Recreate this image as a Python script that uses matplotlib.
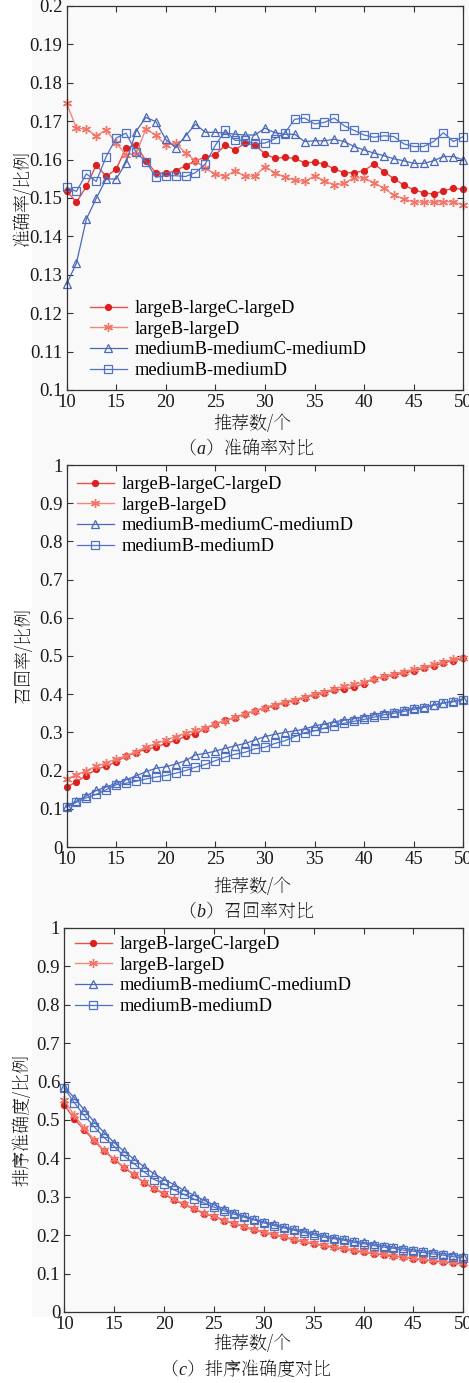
import numpy as np
import matplotlib
matplotlib.use("Agg")
import matplotlib.pyplot as plt
from matplotlib.patches import Rectangle
from matplotlib.font_manager import FontProperties, fontManager

# ---- data -------------------------------------------------------------
rec_num = list(range(10, 51))

series_names = ["largeB-largeC-largeD", "largeB-largeD",
                "mediumB-mediumC-mediumD", "mediumB-mediumD"]

# (a) precision
prec_lblcld = [0.1519, 0.1489, 0.1530, 0.1586, 0.1556, 0.1575, 0.1630, 0.1638, 0.1597, 0.1566,
               0.1564, 0.1571, 0.1584, 0.1597, 0.1606, 0.1612, 0.1638, 0.1625, 0.1643, 0.1638,
               0.1615, 0.1603, 0.1606, 0.1603, 0.1592, 0.1593, 0.1589, 0.1575, 0.1566, 0.1566,
               0.1571, 0.1589, 0.1569, 0.1550, 0.1534, 0.1521, 0.1514, 0.1510, 0.1519, 0.1525,
               0.1523]
prec_lbld = [0.1747, 0.1682, 0.1679, 0.1662, 0.1677, 0.1644, 0.1612, 0.1615, 0.1679, 0.1664,
             0.1637, 0.1644, 0.1617, 0.1597, 0.1577, 0.1563, 0.1556, 0.1571, 0.1557, 0.1557,
             0.1582, 0.1566, 0.1554, 0.1547, 0.1543, 0.1557, 0.1545, 0.1534, 0.1538, 0.1553,
             0.1551, 0.1540, 0.1525, 0.1508, 0.1497, 0.1490, 0.1489, 0.1489, 0.1490, 0.1490,
             0.1482]
prec_mbmcmd = [0.1276, 0.1330, 0.1445, 0.1499, 0.1550, 0.1549, 0.1592, 0.1673, 0.1710, 0.1699,
               0.1653, 0.1631, 0.1662, 0.1692, 0.1671, 0.1671, 0.1669, 0.1666, 0.1664, 0.1664,
               0.1682, 0.1670, 0.1666, 0.1666, 0.1647, 0.1649, 0.1649, 0.1653, 0.1647, 0.1634,
               0.1625, 0.1617, 0.1610, 0.1602, 0.1597, 0.1590, 0.1590, 0.1597, 0.1608, 0.1608,
               0.1599]
prec_mbmd = [0.1528, 0.1517, 0.1563, 0.1543, 0.1608, 0.1656, 0.1669, 0.1619, 0.1595, 0.1554,
             0.1558, 0.1558, 0.1556, 0.1566, 0.1589, 0.1637, 0.1676, 0.1650, 0.1650, 0.1641,
             0.1643, 0.1654, 0.1669, 0.1705, 0.1708, 0.1693, 0.1697, 0.1708, 0.1688, 0.1676,
             0.1664, 0.1658, 0.1662, 0.1660, 0.1641, 0.1634, 0.1634, 0.1647, 0.1670, 0.1647,
             0.1660]

# (b) recall
rec_lblcld = [0.156, 0.171, 0.187, 0.203, 0.212, 0.223, 0.238, 0.247, 0.256, 0.261,
              0.271, 0.279, 0.290, 0.297, 0.310, 0.322, 0.332, 0.339, 0.348, 0.357,
              0.363, 0.370, 0.378, 0.383, 0.391, 0.399, 0.404, 0.410, 0.413, 0.418,
              0.428, 0.441, 0.445, 0.450, 0.455, 0.461, 0.468, 0.474, 0.482, 0.488,
              0.494]
rec_lbld = [0.178, 0.189, 0.200, 0.211, 0.221, 0.230, 0.239, 0.250, 0.261, 0.271,
            0.280, 0.289, 0.298, 0.305, 0.312, 0.322, 0.331, 0.340, 0.349, 0.357,
            0.365, 0.373, 0.380, 0.386, 0.393, 0.401, 0.406, 0.414, 0.421, 0.426,
            0.432, 0.440, 0.447, 0.453, 0.459, 0.465, 0.471, 0.478, 0.485, 0.491,
            0.496]
rec_mbmcmd = [0.107, 0.120, 0.134, 0.148, 0.157, 0.167, 0.176, 0.186, 0.197, 0.206,
              0.210, 0.217, 0.226, 0.241, 0.245, 0.251, 0.258, 0.265, 0.271, 0.280,
              0.289, 0.295, 0.300, 0.304, 0.309, 0.317, 0.322, 0.328, 0.332, 0.336,
              0.341, 0.346, 0.352, 0.354, 0.359, 0.364, 0.367, 0.372, 0.377, 0.382,
              0.387]
rec_mbmd = [0.104, 0.117, 0.129, 0.138, 0.150, 0.163, 0.167, 0.172, 0.178, 0.183,
            0.187, 0.193, 0.200, 0.209, 0.216, 0.226, 0.235, 0.243, 0.248, 0.257,
            0.261, 0.271, 0.278, 0.289, 0.299, 0.304, 0.311, 0.318, 0.324, 0.329,
            0.334, 0.340, 0.346, 0.350, 0.355, 0.360, 0.365, 0.371, 0.377, 0.380,
            0.386]

# (c) ranking accuracy
rank_lblcld = [0.539, 0.503, 0.474, 0.445, 0.419, 0.397, 0.375, 0.357, 0.336, 0.321,
               0.307, 0.291, 0.280, 0.268, 0.256, 0.248, 0.238, 0.230, 0.222, 0.213,
               0.207, 0.201, 0.195, 0.188, 0.183, 0.177, 0.173, 0.168, 0.164, 0.160,
               0.156, 0.152, 0.149, 0.145, 0.142, 0.139, 0.135, 0.133, 0.130, 0.128,
               0.125]
rank_lbld = [0.551, 0.512, 0.479, 0.448, 0.421, 0.399, 0.377, 0.359, 0.338, 0.323,
             0.309, 0.293, 0.282, 0.270, 0.258, 0.250, 0.240, 0.232, 0.224, 0.215,
             0.209, 0.203, 0.197, 0.190, 0.185, 0.179, 0.175, 0.170, 0.166, 0.162,
             0.158, 0.154, 0.151, 0.147, 0.144, 0.141, 0.137, 0.135, 0.132, 0.130,
             0.127]
rank_mbmcmd = [0.586, 0.558, 0.526, 0.495, 0.467, 0.441, 0.418, 0.398, 0.378, 0.360,
               0.345, 0.332, 0.317, 0.304, 0.291, 0.279, 0.269, 0.259, 0.250, 0.242,
               0.235, 0.229, 0.222, 0.216, 0.211, 0.205, 0.199, 0.194, 0.190, 0.185,
               0.181, 0.177, 0.173, 0.169, 0.166, 0.162, 0.159, 0.156, 0.152, 0.149,
               0.145]
rank_mbmd = [0.583, 0.545, 0.512, 0.482, 0.454, 0.431, 0.406, 0.386, 0.365, 0.345,
             0.334, 0.318, 0.306, 0.294, 0.284, 0.273, 0.264, 0.255, 0.247, 0.240,
             0.232, 0.225, 0.219, 0.213, 0.207, 0.201, 0.195, 0.191, 0.187, 0.181,
             0.178, 0.173, 0.169, 0.166, 0.161, 0.158, 0.155, 0.151, 0.148, 0.144,
             0.141]

prec_ticks = [0.1, 0.11, 0.12, 0.13, 0.14, 0.15, 0.16, 0.17, 0.18, 0.19, 0.2]
prec_ticklabels = ["0.1", "0.11", "0.12", "0.13", "0.14", "0.15", "0.16", "0.17", "0.18", "0.19", "0.2"]
unit_ticks = [0, 0.1, 0.2, 0.3, 0.4, 0.5, 0.6, 0.7, 0.8, 0.9, 1.0]
unit_ticklabels = ["0", "0.1", "0.2", "0.3", "0.4", "0.5", "0.6", "0.7", "0.8", "0.9", "1"]
x_ticks = [10, 15, 20, 25, 30, 35, 40, 45, 50]

# ---- fonts -----------------------------------------------------------
installed = {f.name for f in fontManager.ttflist}
cjk_pref = [n for n in ("Noto Serif CJK SC", "Noto Serif SC", "Source Han Serif SC",
                        "Noto Sans CJK SC") if n in installed]
CJK = cjk_pref[:1] + ["DejaVu Sans"]
SERIF = "Liberation Serif"

plt.rcParams["font.family"] = "serif"
plt.rcParams["font.serif"] = [SERIF, "DejaVu Serif"]
plt.rcParams["mathtext.fontset"] = "custom"
plt.rcParams["mathtext.it"] = SERIF + ":italic"
plt.rcParams["mathtext.rm"] = SERIF

tick_font = FontProperties(family=SERIF, size=13.5)
legend_font = FontProperties(family=SERIF, size=13.3)

# ---- style -----------------------------------------------------------
W, H = 469, 1383
DPI = 100

styles = [
    dict(color="#e8504a", marker="o", ms=4.2, mfc="#dd1f1f", mec="#dd1f1f", lw=1.0),
    dict(color="#f2877c", marker=(6, 2, 0), ms=6.5, mfc="#ef7668", mec="#ef7668", mew=1.0, lw=1.0),
    dict(color="#4a68b8", marker="^", ms=5.2, mfc="none", mec="#4a68b8", mew=0.9, lw=0.9),
    dict(color="#4f72c4", marker="s", ms=5.8, mfc="none", mec="#4f72c4", mew=0.9, lw=0.9),
]

fig = plt.figure(figsize=(W / DPI, H / DPI), dpi=DPI)
fig.patch.set_facecolor("white")
fig.patches.append(Rectangle((32 / W, 1 - 1317 / H), 1 - 32 / W, 1317 / H,
                             transform=fig.transFigure, facecolor="#f9f9f9",
                             edgecolor="none", zorder=-10))


def px_box(left, top, right, bottom):
    return [left / W, 1 - bottom / H, (right - left) / W, (bottom - top) / H]


def style_axes(ax, ylim, yticks, yticklabels):
    ax.set_facecolor("none")
    ax.set_xlim(10, 50)
    ax.set_ylim(*ylim)
    ax.set_xticks(x_ticks)
    ax.set_xticklabels([str(t) for t in x_ticks])
    ax.set_yticks(yticks)
    ax.set_yticklabels(yticklabels)
    ax.tick_params(direction="in", length=4, width=0.8, top=True, right=True,
                   colors="#333333", labelcolor="#1a1a1a", pad=3)
    for lab in ax.get_xticklabels() + ax.get_yticklabels():
        lab.set_fontproperties(tick_font)
    for sp in ax.spines.values():
        sp.set_color("#333333")
        sp.set_linewidth(0.9)


panels = [
    dict(box=px_box(66.5, 6, 463.3, 390), ylim=(0.1, 0.2), ticks=prec_ticks,
         ticklabels=prec_ticklabels,
         data=[prec_lblcld, prec_lbld, prec_mbmcmd, prec_mbmd],
         ylabel="准确率/比例", caption="（$\\mathit{a}$）准确率对比",
         legend_anchor=(90, 300), ylab_x=22, xlab_y=424, cap_y=449),
    dict(box=px_box(66.5, 465, 463.3, 847), ylim=(0, 1), ticks=unit_ticks,
         ticklabels=unit_ticklabels,
         data=[rec_lblcld, rec_lbld, rec_mbmcmd, rec_mbmd],
         ylabel="召回率/比例", caption="（$\\mathit{b}$）召回率对比",
         legend_anchor=(77, 476), ylab_x=24, xlab_y=887, cap_y=912),
    dict(box=px_box(64.3, 928, 463.3, 1312), ylim=(0, 1), ticks=unit_ticks,
         ticklabels=unit_ticklabels,
         data=[rank_lblcld, rank_lbld, rank_mbmcmd, rank_mbmd],
         ylabel="排序准确度/比例", caption="（$\\mathit{c}$）排序准确度对比",
         legend_anchor=(75, 936), ylab_x=22, xlab_y=1344, cap_y=1369),
]

for p in panels:
    ax = fig.add_axes(p["box"])
    style_axes(ax, p["ylim"], p["ticks"], p["ticklabels"])
    for name, vals, st in zip(series_names, p["data"], styles):
        ax.plot(rec_num, vals, label=name, clip_on=False, **st)
    ax.legend(loc="upper left",
              bbox_to_anchor=(p["legend_anchor"][0] / W, 1 - p["legend_anchor"][1] / H),
              bbox_transform=fig.transFigure, frameon=False, prop=legend_font,
              handlelength=2.0, handletextpad=0.4, labelspacing=0.2,
              borderpad=0, borderaxespad=0)
    box = p["box"]
    fig.text(p["ylab_x"] / W, box[1] + box[3] / 2, p["ylabel"], rotation=90,
             ha="center", va="center", fontsize=13, family=CJK, color="#1a1a1a")
    fig.text(252 / W, 1 - p["xlab_y"] / H, "推荐数/个", ha="center", va="center",
             fontsize=13, family=CJK, color="#1a1a1a")
    fig.text(246 / W, 1 - p["cap_y"] / H, p["caption"], ha="center", va="center",
             fontsize=13, family=CJK, color="#1a1a1a")

fig.savefig("out.png", dpi=DPI, facecolor=fig.get_facecolor())
